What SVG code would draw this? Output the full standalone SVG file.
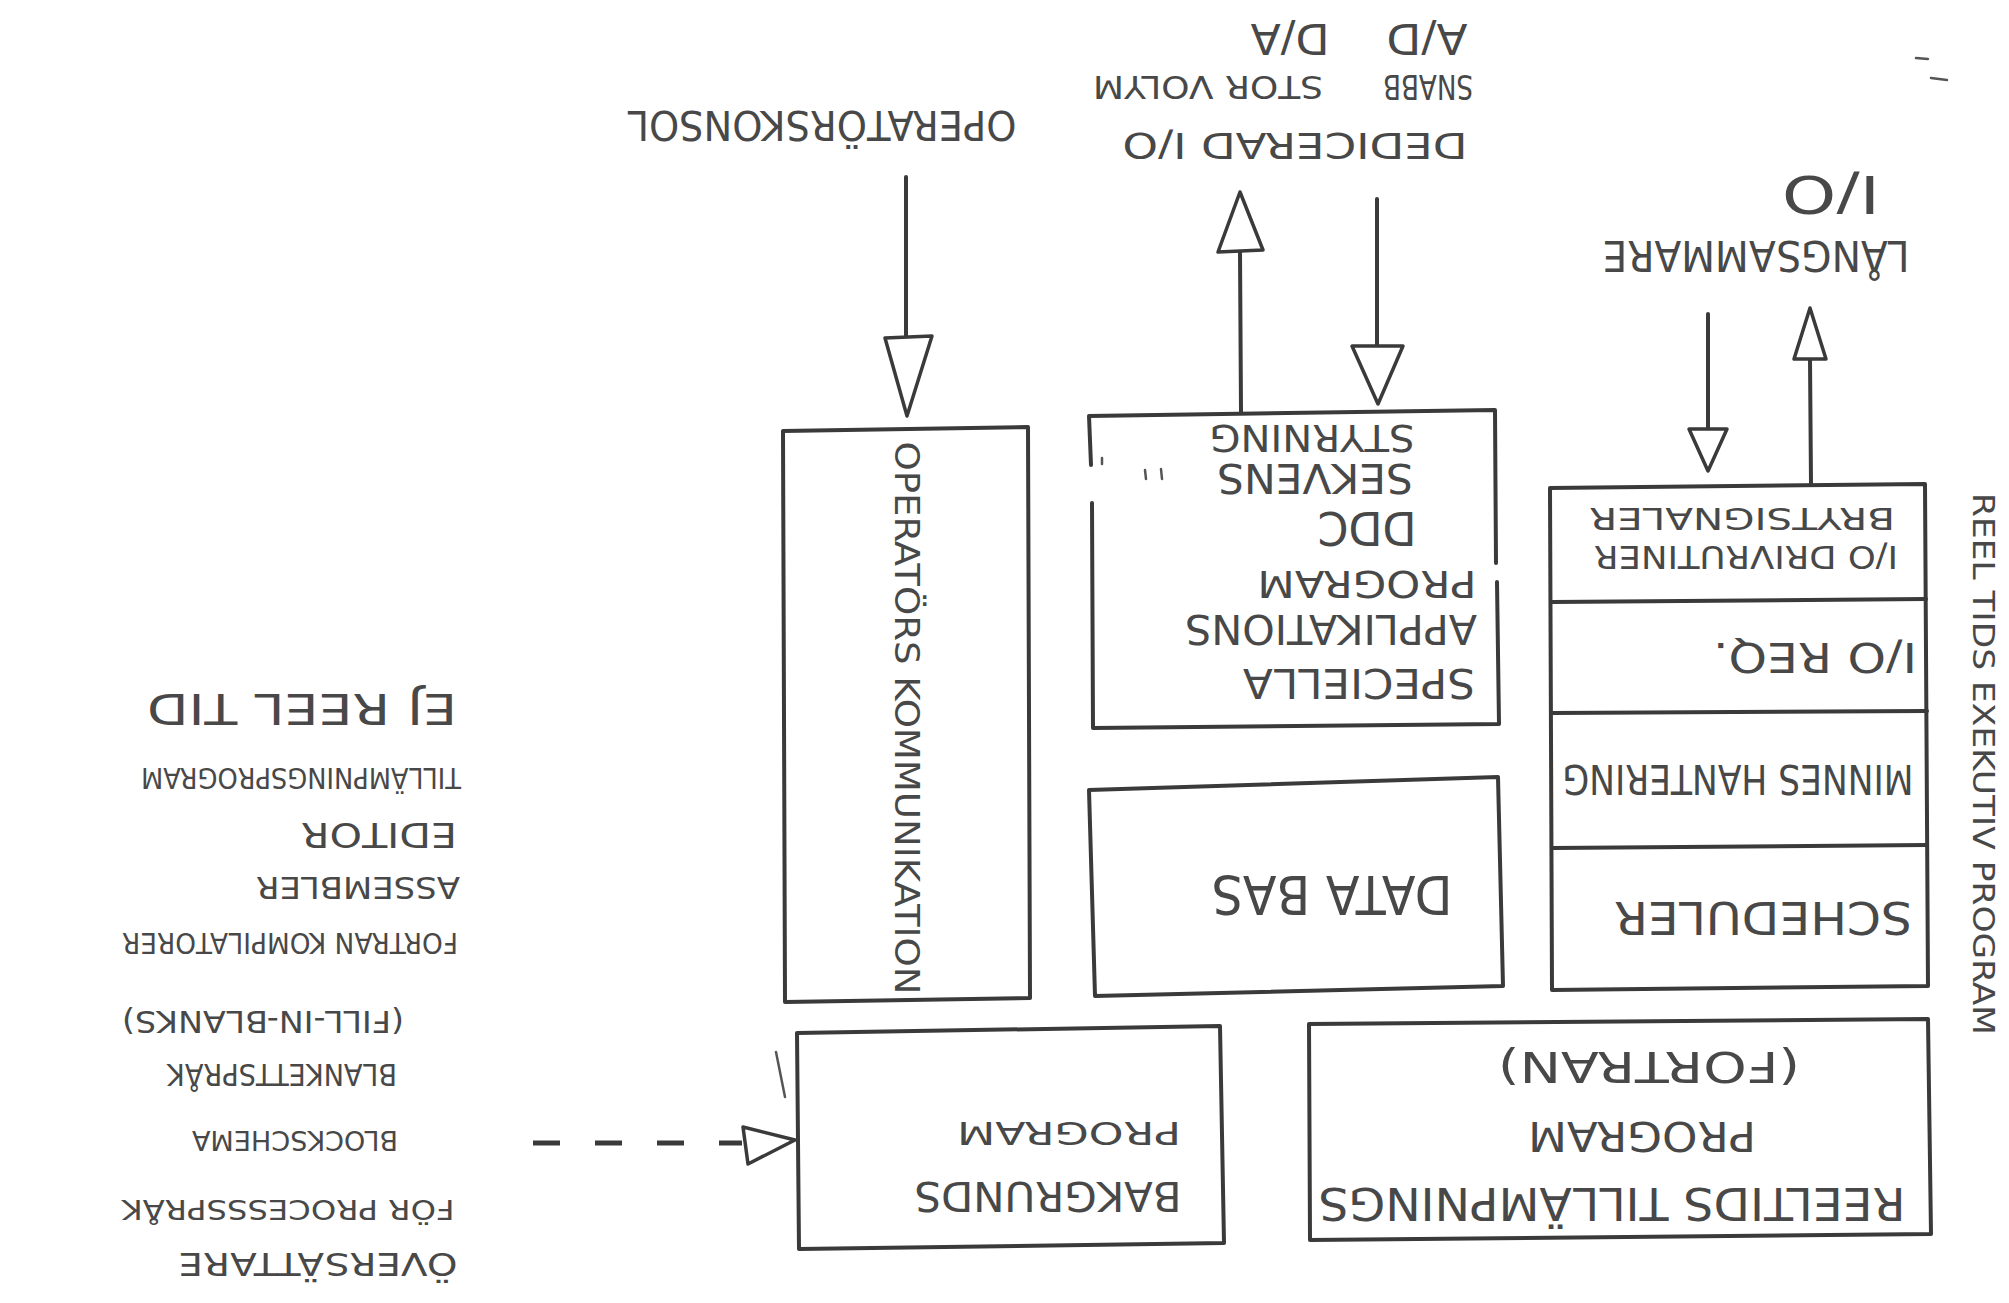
<svg xmlns="http://www.w3.org/2000/svg" width="2009" height="1303" viewBox="0 0 2009 1303">
<style>
  .bg{fill:#ffffff}
  .box{fill:none;stroke:#3a3a3a;stroke-width:4;stroke-linecap:round;stroke-linejoin:round}
  .ln{fill:none;stroke:#3a3a3a;stroke-width:4;stroke-linecap:round}
  .dash{fill:none;stroke:#3a3a3a;stroke-width:5;stroke-dasharray:27 35}
  .head{fill:#ffffff;stroke:#3a3a3a;stroke-width:3.5;stroke-linejoin:round}
  .mark{fill:none;stroke:#555;stroke-width:2.5;stroke-linecap:round}
  .t{font-family:"DejaVu Sans","Liberation Sans",sans-serif;fill:#484848;text-anchor:middle;dominant-baseline:central}
</style>
<rect class="bg" x="0" y="0" width="2009" height="1303"/>

<!-- free labels (upside down) -->
<g id="label-operatorskonsol">
  <text class="t" x="822" y="125" font-size="40" textLength="389" lengthAdjust="spacingAndGlyphs" transform="rotate(180 822 125)">OPERATÖRSKONSOL</text>
</g>
<g id="label-dedicerad">
  <text class="t" x="1295" y="145" font-size="36" textLength="345" lengthAdjust="spacingAndGlyphs" transform="rotate(180 1295 145)">DEDICERAD I/O</text>
  <text class="t" x="1428" y="87" font-size="34" textLength="90" lengthAdjust="spacingAndGlyphs" transform="rotate(180 1428 87)">SNABB</text>
  <text class="t" x="1208" y="87" font-size="32" textLength="230" lengthAdjust="spacingAndGlyphs" transform="rotate(180 1208 87)">STOR VOLYM</text>
  <text class="t" x="1427" y="38" font-size="42" textLength="81" lengthAdjust="spacingAndGlyphs" transform="rotate(180 1427 38)">A/D</text>
  <text class="t" x="1290" y="38" font-size="42" textLength="79" lengthAdjust="spacingAndGlyphs" transform="rotate(180 1290 38)">D/A</text>
</g>
<g id="label-langsammare">
  <text class="t" x="1831" y="194" font-size="52" textLength="98" lengthAdjust="spacingAndGlyphs" transform="rotate(180 1831 194)">I/O</text>
  <text class="t" x="1756" y="255" font-size="42" textLength="307" lengthAdjust="spacingAndGlyphs" transform="rotate(180 1756 255)">LÅNGSAMMARE</text>
</g>
<g id="label-ej-reel-tid">
  <text class="t" x="302" y="708" font-size="42" textLength="310" lengthAdjust="spacingAndGlyphs" transform="rotate(180 302 708)">EJ REEL TID</text>
  <text class="t" x="301" y="777" font-size="28" textLength="320" lengthAdjust="spacingAndGlyphs" transform="rotate(180 301 777)">TILLÄMPNINGSPROGRAM</text>
  <text class="t" x="379" y="835" font-size="34" textLength="156" lengthAdjust="spacingAndGlyphs" transform="rotate(180 379 835)">EDITOR</text>
  <text class="t" x="358" y="887" font-size="30" textLength="204" lengthAdjust="spacingAndGlyphs" transform="rotate(180 358 887)">ASSEMBLER</text>
  <text class="t" x="290" y="942" font-size="28" textLength="336" lengthAdjust="spacingAndGlyphs" transform="rotate(180 290 942)">FORTRAN KOMPILATORER</text>
  <text class="t" x="263" y="1021" font-size="30" textLength="282" lengthAdjust="spacingAndGlyphs" transform="rotate(180 263 1021)">(FILL-IN-BLANKS)</text>
  <text class="t" x="282" y="1074" font-size="30" textLength="230" lengthAdjust="spacingAndGlyphs" transform="rotate(180 282 1074)">BLANKETTSPRÅK</text>
  <text class="t" x="295" y="1140" font-size="26" textLength="206" lengthAdjust="spacingAndGlyphs" transform="rotate(180 295 1140)">BLOCKSCHEMA</text>
  <text class="t" x="288" y="1209" font-size="26" textLength="333" lengthAdjust="spacingAndGlyphs" transform="rotate(180 288 1209)">FÖR PROCESSSPRÅK</text>
  <text class="t" x="318" y="1264" font-size="32" textLength="279" lengthAdjust="spacingAndGlyphs" transform="rotate(180 318 1264)">ÖVERSÄTTARE</text>
</g>
<g id="label-reeltids-exekutiv">
  <text class="t" x="1983" y="764" font-size="30" textLength="542" lengthAdjust="spacingAndGlyphs" transform="rotate(90 1983 764)">REEL TIDS EXEKUTIV PROGRAM</text>
</g>

<!-- nodes -->
<g id="node-operatorskommunikation">
  <path class="box" d="M783,431 L1028,427 L1030,998 L785,1002 Z"/>
  <text class="t" x="907" y="718" font-size="34" textLength="553" lengthAdjust="spacingAndGlyphs" transform="rotate(90 907 718)">OPERATÖRS KOMMUNIKATION</text>
</g>
<g id="node-speciella">
  <path class="box" d="M1089,416 L1495,410 L1496,563 M1497,582 L1499,724 L1093,728 L1092,503 M1091,465 L1089,416"/>
  <path class="mark" d="M1102,458 L1102,464 M1145,470 L1146,479 M1161,469 L1162,479"/>
  <text class="t" x="1312" y="438" font-size="38" textLength="205" lengthAdjust="spacingAndGlyphs" transform="rotate(180 1312 438)">STYRNING</text>
  <text class="t" x="1315" y="478" font-size="40" textLength="196" lengthAdjust="spacingAndGlyphs" transform="rotate(180 1315 478)">SEKVENS</text>
  <text class="t" x="1367" y="528" font-size="46" textLength="99" lengthAdjust="spacingAndGlyphs" transform="rotate(180 1367 528)">DDC</text>
  <text class="t" x="1367" y="584" font-size="38" textLength="219" lengthAdjust="spacingAndGlyphs" transform="rotate(180 1367 584)">PROGRAM</text>
  <text class="t" x="1331" y="629" font-size="40" textLength="292" lengthAdjust="spacingAndGlyphs" transform="rotate(180 1331 629)">APPLIKATIONS</text>
  <text class="t" x="1359" y="683" font-size="40" textLength="232" lengthAdjust="spacingAndGlyphs" transform="rotate(180 1359 683)">SPECIELLA</text>
</g>
<g id="node-databas">
  <path class="box" d="M1089,790 L1498,777 L1503,986 L1095,996 Z"/>
  <text class="t" x="1332" y="894" font-size="54" textLength="241" lengthAdjust="spacingAndGlyphs" transform="rotate(180 1332 894)">DATA BAS</text>
</g>
<g id="node-exekutiv">
  <path class="box" d="M1550,488 L1925,484 L1928,986 L1552,990 Z"/>
  <path class="ln" d="M1552,602 L1926,599 M1552,713 L1927,711 M1552,848 L1927,845"/>
  <text class="t" x="1742" y="518" font-size="30" textLength="306" lengthAdjust="spacingAndGlyphs" transform="rotate(180 1742 518)">BRYTSIGNALER</text>
  <text class="t" x="1746" y="557" font-size="32" textLength="304" lengthAdjust="spacingAndGlyphs" transform="rotate(180 1746 557)">I/O DRIVRUTINER</text>
  <text class="t" x="1815" y="657" font-size="40" textLength="204" lengthAdjust="spacingAndGlyphs" transform="rotate(180 1815 657)">I/O REQ.</text>
  <text class="t" x="1738" y="779" font-size="40" textLength="351" lengthAdjust="spacingAndGlyphs" transform="rotate(180 1738 779)">MINNES HANTERING</text>
  <text class="t" x="1763" y="917" font-size="44" textLength="298" lengthAdjust="spacingAndGlyphs" transform="rotate(180 1763 917)">SCHEDULER</text>
</g>
<g id="node-bakgrunds">
  <path class="box" d="M797,1033 L1220,1026 L1224,1243 L799,1249 Z"/>
  <text class="t" x="1069" y="1133" font-size="32" textLength="224" lengthAdjust="spacingAndGlyphs" transform="rotate(180 1069 1133)">PROGRAM</text>
  <text class="t" x="1048" y="1196" font-size="40" textLength="267" lengthAdjust="spacingAndGlyphs" transform="rotate(180 1048 1196)">BAKGRUNDS</text>
</g>
<g id="node-reeltids">
  <path class="box" d="M1309,1024 L1928,1019 L1931,1234 L1310,1240 Z"/>
  <text class="t" x="1649" y="1066" font-size="42" textLength="302" lengthAdjust="spacingAndGlyphs" transform="rotate(180 1649 1066)">(FORTRAN)</text>
  <text class="t" x="1642" y="1136" font-size="40" textLength="228" lengthAdjust="spacingAndGlyphs" transform="rotate(180 1642 1136)">PROGRAM</text>
  <text class="t" x="1612" y="1203" font-size="44" textLength="587" lengthAdjust="spacingAndGlyphs" transform="rotate(180 1612 1203)">REELTIDS TILLÄMPNINGS</text>
</g>

<!-- connectors -->
<g id="connectors">
  <g id="arrow-operatorskonsol">
    <path class="ln" d="M906,177 L906,338"/>
    <polygon class="head" points="885,338 932,336 907,416"/>
  </g>
  <g id="arrow-dedicerad-out">
    <path class="ln" d="M1241,412 L1240,252"/>
    <polygon class="head" points="1218,252 1263,250 1240,192"/>
  </g>
  <g id="arrow-dedicerad-in">
    <path class="ln" d="M1377,199 L1377,346"/>
    <polygon class="head" points="1352,346 1403,346 1378,404"/>
  </g>
  <g id="arrow-langsammare-in">
    <path class="ln" d="M1708,314 L1708,429"/>
    <polygon class="head" points="1689,429 1727,429 1708,471"/>
  </g>
  <g id="arrow-langsammare-out">
    <path class="ln" d="M1811,484 L1810,359"/>
    <polygon class="head" points="1794,359 1826,359 1810,308"/>
  </g>
  <g id="arrow-bakgrunds">
    <path class="dash" d="M533,1143 L742,1143"/>
    <polygon class="head" points="743,1127 748,1164 795,1140"/>
  </g>
</g>

<!-- stray pen marks -->
<path class="mark" d="M776,1052 L785,1097"/>
<path class="mark" d="M1916,58 L1928,59 M1931,78 L1947,80"/>
</svg>
